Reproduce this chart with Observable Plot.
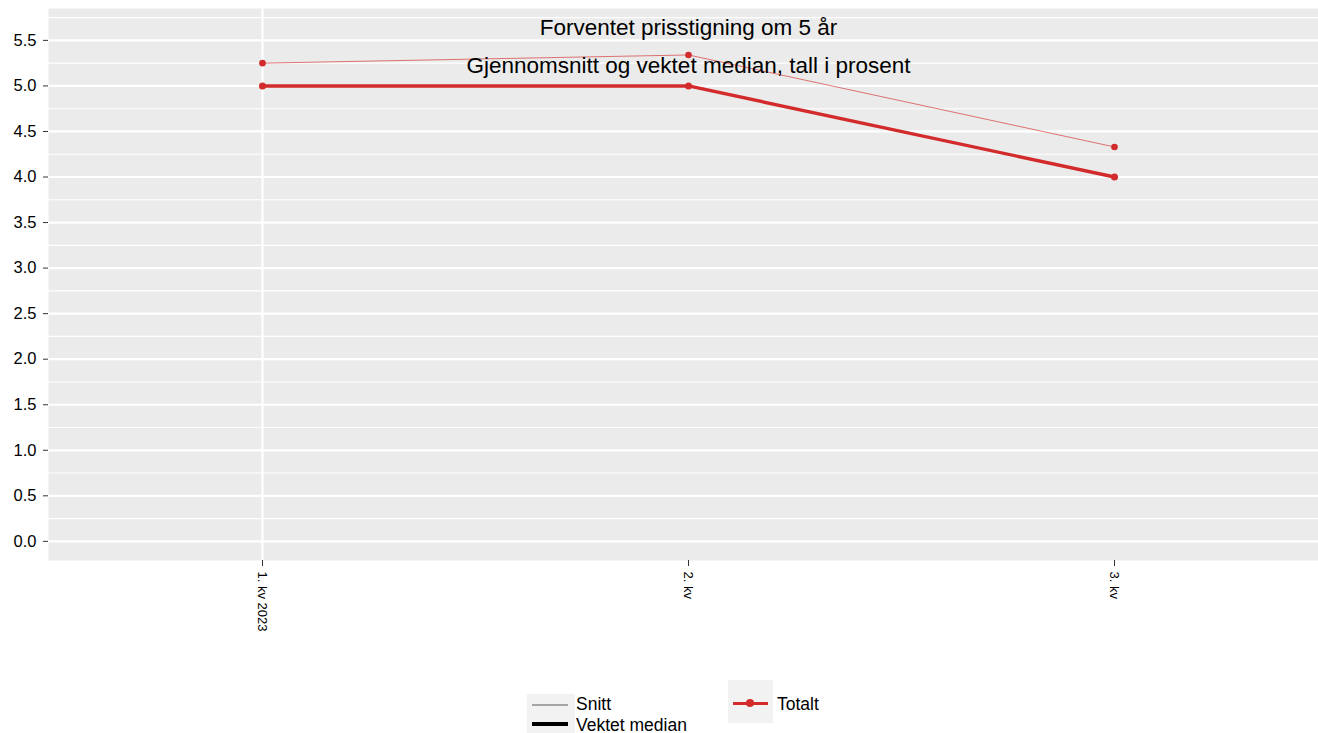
<!DOCTYPE html>
<html>
<head>
<meta charset="utf-8">
<script src="https://cdn.jsdelivr.net/npm/d3@7"></script>
<script src="https://cdn.jsdelivr.net/npm/@observablehq/plot@0.6"></script>
<style>
  html, body { margin: 0; padding: 0; background: #fff; }
  #wrap { position: relative; width: 1318px; height: 733px; font-family: "Liberation Sans", Arial, sans-serif; }
  #chart svg { display: block; }
  .lg { position: absolute; font-size: 17.5px; line-height: 20px; color: #000; white-space: nowrap; }
  .box { position: absolute; background: #F2F2F2; }
</style>
</head>
<body>
<div id="wrap">
  <div id="chart"></div>
  <div class="box" style="left:527px;top:694px;width:48px;height:39px;"></div>
  <div class="lg" style="left:532px;top:704px;width:36px;height:1.5px;background:#A6A6A6;"></div>
  <div class="lg" style="left:532px;top:722px;width:36px;height:4px;background:#000;"></div>
  <div class="lg" style="left:576px;top:694px;">Snitt</div>
  <div class="lg" style="left:576px;top:715px;">Vektet median</div>
  <div class="box" style="left:728px;top:680px;width:45px;height:43px;"></div>
  <div class="lg" style="left:733px;top:702px;width:35px;height:2.5px;background:#D32B2B;"></div>
  <div class="lg" style="left:746px;top:699px;width:8px;height:8px;border-radius:50%;background:#D32B2B;"></div>
  <div class="lg" style="left:777px;top:694px;">Totalt</div>
</div>
<script>
const quarters = ["1. kv 2023", "2. kv", "3. kv"];
const snitt = [5.25, 5.34, 4.33];
const median = [5.0, 5.0, 4.0];
const yTicks = [0, 0.5, 1, 1.5, 2, 2.5, 3, 3.5, 4, 4.5, 5, 5.5];
const yMinor = [0.25, 0.75, 1.25, 1.75, 2.25, 2.75, 3.25, 3.75, 4.25, 4.75, 5.25, 5.75];
const title = "Forventet prisstigning om 5 år";
const subtitle = "Gjennomsnitt og vektet median, tall i prosent";

const red = "#D32B2B";
const snittData = quarters.map((q, i) => ({q, v: snitt[i]}));
const medianData = quarters.map((q, i) => ({q, v: median[i]}));

const plot = Plot.plot({
  width: 1318,
  height: 660,
  marginTop: 8,
  marginBottom: 100,
  marginLeft: 48,
  marginRight: 0,
  style: {fontFamily: "Liberation Sans, Arial, sans-serif", background: "#fff"},
  x: {type: "point", domain: quarters, padding: 0.49, align: 0.512},
  y: {domain: [-0.21, 5.85]},
  marks: [
    Plot.frame({fill: "#EBEBEB", stroke: null}),
    Plot.ruleY(yMinor, {stroke: "#fff", strokeWidth: 1.1}),
    Plot.ruleY(yTicks, {stroke: "#fff", strokeWidth: 2.2}),
    Plot.ruleX([quarters[0]], {stroke: "#fff", strokeWidth: 2.2}),
    Plot.axisY({ticks: yTicks, tickFormat: d3.format(".1f"), tickSize: 5, tickPadding: 7, fontSize: 16.5, color: "#000", stroke: "#333", label: null}),
    Plot.axisX({tickSize: 6, tickRotate: 90, fontSize: 13, tickPadding: 5, color: "#000", stroke: "#333", label: null}),
    Plot.line(snittData, {x: "q", y: "v", stroke: red, strokeWidth: 0.8, strokeOpacity: 0.8}),
    Plot.line(medianData, {x: "q", y: "v", stroke: red, strokeWidth: 3.4}),
    Plot.dot(snittData, {x: "q", y: "v", fill: red, r: 3.3}),
    Plot.dot(medianData, {x: "q", y: "v", fill: red, r: 3.5}),
    Plot.text([title], {x: () => quarters[1], frameAnchor: "top", lineAnchor: "middle", dy: 19, text: d => d, fontSize: 22.5, fill: "#000"}),
    Plot.text([subtitle], {x: () => quarters[1], frameAnchor: "top", lineAnchor: "middle", dy: 57, text: d => d, fontSize: 22.5, fill: "#000"})
  ]
});
document.getElementById("chart").appendChild(plot);
</script>
</body>
</html>
